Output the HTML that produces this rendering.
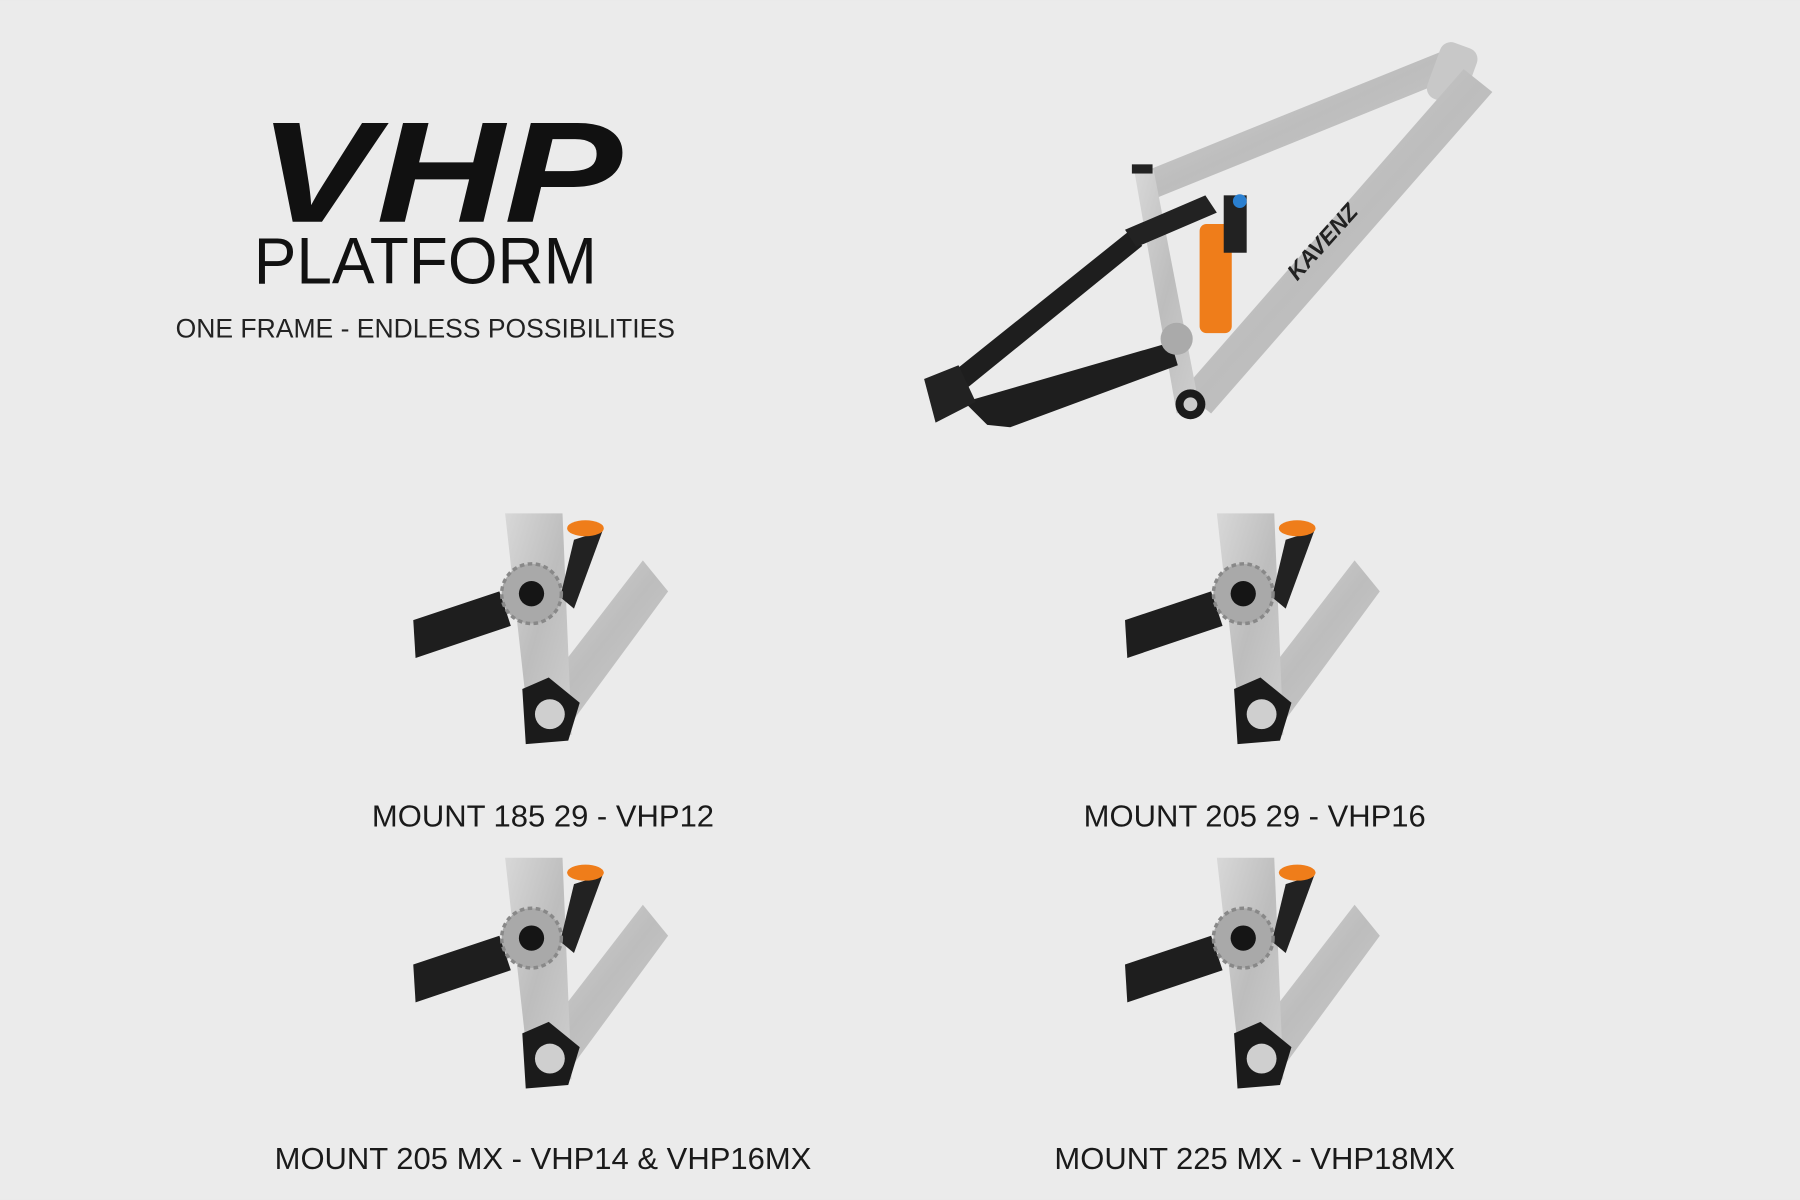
<!DOCTYPE html>
<html><head><meta charset="utf-8"><style>
html,body{margin:0;padding:0;background:#ebebeb;}
svg{display:block}
</style></head><body>
<svg width="1800" height="1200" viewBox="0 0 1568 1045" xmlns="http://www.w3.org/2000/svg">
<rect width="1568" height="1045" fill="#ebebeb"/>
<defs>
<linearGradient id="al" x1="0" y1="0" x2="1" y2="1">
<stop offset="0" stop-color="#d8d8d8"/><stop offset="0.5" stop-color="#bdbdbd"/><stop offset="1" stop-color="#cfcfcf"/>
</linearGradient>
<g id="det">
<path d="M560,488 L582,515 L490,640 L462,615 Z" fill="url(#al)"/>
<path d="M440,447 L490,447 L498,640 L462,645 Z" fill="url(#al)"/>
<path d="M360,540 L435,515 L445,545 L362,573 Z" fill="#1e1e1e"/>
<path d="M500,470 L525,462 L500,530 L488,520 Z" fill="#222"/>
<ellipse cx="510" cy="460" rx="16" ry="7" fill="#ef7d1a"/>
<circle cx="463" cy="517" r="26" fill="#a9a9a9" stroke="#888" stroke-width="3" stroke-dasharray="4 3"/>
<circle cx="463" cy="517" r="11" fill="#151515"/>
<path d="M455,600 L478,590 L505,612 L495,645 L458,648 Z" fill="#1b1b1b"/>
<circle cx="479" cy="622" r="13" fill="#cfcfcf"/>
</g>
</defs>

<text x="225" y="193" font-family="Liberation Sans, sans-serif" font-weight="bold" font-style="italic" font-size="125" fill="#111" textLength="317" lengthAdjust="spacingAndGlyphs">VHP</text>
<text x="221" y="247" font-family="Liberation Sans, sans-serif" font-weight="300" font-size="57" fill="#111" textLength="299" lengthAdjust="spacingAndGlyphs">PLATFORM</text>
<text x="153" y="294" font-family="Liberation Sans, sans-serif" font-size="23" fill="#222" textLength="435" lengthAdjust="spacingAndGlyphs">ONE FRAME - ENDLESS POSSIBILITIES</text>

<g>
<path d="M995,150 L1255,45 L1265,68 L1008,172 Z" fill="url(#al)"/>
<rect x="1248" y="38" width="34" height="52" rx="10" fill="#c8c8c8" transform="rotate(20 1265 64)"/>
<path d="M1275,60 L1300,80 L1055,360 L1030,340 Z" fill="url(#al)"/>
<path d="M988,148 L1005,148 L1045,355 L1025,360 Z" fill="url(#al)"/>
<rect x="986" y="143" width="18" height="8" fill="#222"/>
<circle cx="1037" cy="352" r="13" fill="#1b1b1b"/><circle cx="1037" cy="352" r="6" fill="#ccc"/>
<path d="M810,340 L985,200 L995,214 L825,352 Z" fill="#1e1e1e"/>
<path d="M840,350 L1020,298 L1026,318 L880,372 L860,370 Z" fill="#1e1e1e"/>
<path d="M805,330 L835,318 L850,350 L815,368 Z" fill="#222"/>
<path d="M980,200 L1050,170 L1060,185 L990,215 Z" fill="#222"/>
<rect x="1045" y="195" width="28" height="95" rx="6" fill="#ef7d1a"/>
<rect x="1066" y="170" width="20" height="50" fill="#222"/>
<circle cx="1080" cy="175" r="6" fill="#2a7fd0"/>
<circle cx="1025" cy="295" r="14" fill="#aaa"/>
<text x="1130" y="245" font-family="Liberation Sans, sans-serif" font-weight="bold" font-style="italic" font-size="20" fill="#222" transform="rotate(-48 1130 245)">KAVENZ</text>
</g>

<use href="#det"/>
<use href="#det" x="620"/>
<use href="#det" y="300"/>
<use href="#det" x="620" y="300"/>

<g font-family="Liberation Sans, sans-serif" font-size="27" fill="#1a1a1a" text-anchor="middle">
<text x="473" y="720">MOUNT 185 29 - VHP12</text>
<text x="1093" y="720">MOUNT 205 29 - VHP16</text>
<text x="473" y="1018">MOUNT 205 MX - VHP14 &amp;  VHP16MX</text>
<text x="1093" y="1018">MOUNT 225 MX - VHP18MX</text>
</g>
</svg>
</body></html>
